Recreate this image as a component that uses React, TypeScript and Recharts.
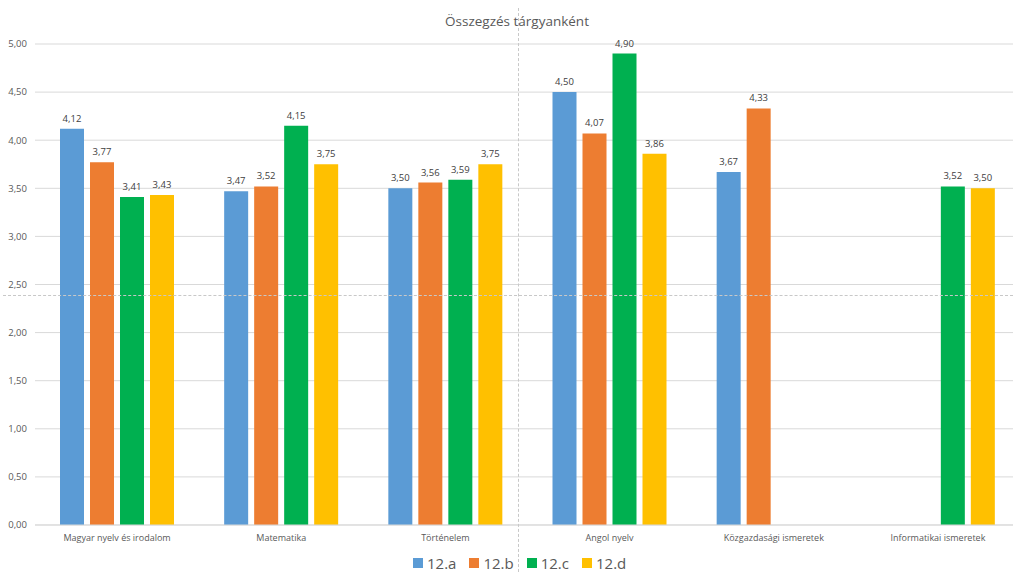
import { BarChart, Bar, XAxis, YAxis, CartesianGrid, LabelList } from 'recharts';

const categories = [
  'Magyar nyelv és irodalom',
  'Matematika',
  'Történelem',
  'Angol nyelv',
  'Közgazdasági ismeretek',
  'Informatikai ismeretek',
];
const classA = [4.12, 3.47, 3.5, 4.5, 3.67, null];
const classB = [3.77, 3.52, 3.56, 4.07, 4.33, null];
const classC = [3.41, 4.15, 3.59, 4.9, null, 3.52];
const classD = [3.43, 3.75, 3.75, 3.86, null, 3.5];
const yTicks = [0, 0.5, 1, 1.5, 2, 2.5, 3, 3.5, 4, 4.5, 5];

const data = categories.map((name, i) => ({
  name,
  a: classA[i],
  b: classB[i],
  c: classC[i],
  d: classD[i],
}));

const series = [
  { key: 'a', name: '12.a', color: '#5b9bd5' },
  { key: 'b', name: '12.b', color: '#ed7d31' },
  { key: 'c', name: '12.c', color: '#00b050' },
  { key: 'd', name: '12.d', color: '#ffc000' },
];

const font = '"Open Sans", sans-serif';
const fmt = (v: any) => (v == null ? '' : Number(v).toFixed(2).replace('.', ','));

export default function App() {
  return (
    <div style={{ position: 'absolute', left: 0, top: 0, width: 1013, height: 572, overflow: 'hidden', background: '#fff', fontFamily: font }}>
      <div style={{ position: 'absolute', top: 12, left: 0, width: 1034, textAlign: 'center', fontSize: 13.5, color: '#595959' }}>
        Összegzés tárgyanként
      </div>
      <BarChart
        width={1030}
        height={572}
        data={data}
        margin={{ top: 44, right: 10, left: 0, bottom: 23 }}
        barSize={24}
        barGap={6}
      >
        <CartesianGrid vertical={false} stroke="#d9d9d9" />
        <XAxis
          dataKey="name"
          tickLine={false}
          axisLine={{ stroke: '#d9d9d9' }}
          height={24}
          interval={0}
          tick={{ fontSize: 9, fill: '#595959', fontFamily: font, dy: 2 }}
        />
        <YAxis
          width={35}
          domain={[0, 5]}
          ticks={yTicks}
          tickFormatter={fmt}
          axisLine={false}
          tickLine={false}
          tick={{ fontSize: 9.5, fill: '#595959', fontFamily: font }}
        />
        {series.map((s) => (
          <Bar key={s.key} dataKey={s.key} name={s.name} fill={s.color} isAnimationActive={false}>
            <LabelList
              dataKey={s.key}
              position="top"
              offset={7}
              formatter={fmt}
              style={{ fontSize: 9.5, fill: '#404040', fontFamily: font }}
            />
          </Bar>
        ))}
      </BarChart>
      <div style={{ position: 'absolute', top: 555, left: 413, display: 'flex', alignItems: 'center', fontSize: 15, lineHeight: '16px', color: '#595959' }}>
        {series.map((s) => (
          <div key={s.key} style={{ display: 'flex', alignItems: 'center', marginRight: 13 }}>
            <span style={{ display: 'inline-block', width: 10, height: 10, background: s.color, marginRight: 4 }} />
            <span>{s.name}</span>
          </div>
        ))}
      </div>
      <div style={{ position: 'absolute', top: 295, left: 3, width: 1010, borderTop: '1px dashed #c8c8c8' }} />
      <div style={{ position: 'absolute', top: 8, left: 518, height: 564, borderLeft: '1px dashed #c8c8c8' }} />
    </div>
  );
}
